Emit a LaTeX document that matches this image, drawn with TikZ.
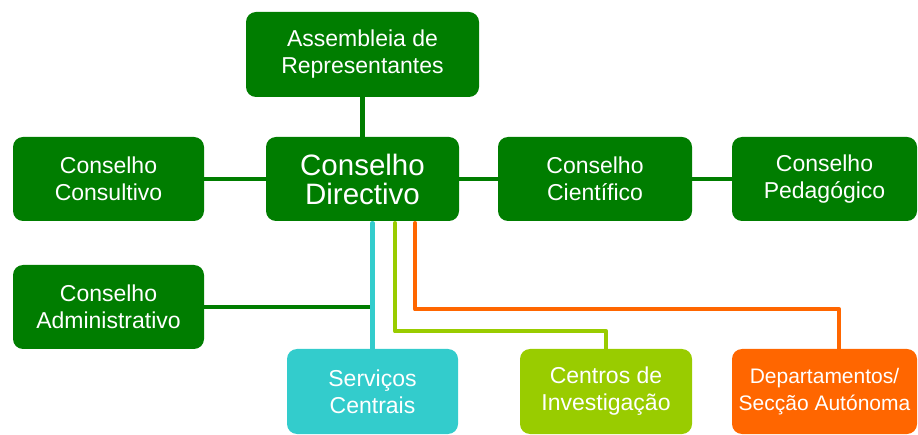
\documentclass[tikz,border=0pt]{standalone}
\usepackage{fontspec}
\setmainfont{Liberation Sans}
\usetikzlibrary{calc,backgrounds}
\definecolor{dgreen}{RGB}{0,125,0}
\definecolor{ccyan}{RGB}{51,204,204}
\definecolor{clime}{RGB}{153,204,0}
\definecolor{corange}{RGB}{255,102,0}
\begin{document}
\begin{tikzpicture}[x=1pt,y=-1pt,
  box/.style={rounded corners=10pt, fill=#1, text=white, align=center, inner sep=0pt,
    font=\fontsize{23}{27}\selectfont},
  conn/.style={line width=4.5pt, line cap=round, line join=round, draw=#1}]
\useasboundingbox (0,0) rectangle (918,435);
\node[box=dgreen, minimum width=233pt, minimum height=85pt] (asm) at (362.5,54.5) {Assembleia de\\Representantes};
\node[box=dgreen, minimum width=193pt, minimum height=84pt, font=\fontsize{29.5}{29}\selectfont] (dir) at (362.5,179) {Conselho\\Directivo};
\node[box=dgreen, minimum width=191pt, minimum height=84pt] (cons) at (108.5,179) {Conselho\\Consultivo};
\node[box=dgreen, minimum width=194pt, minimum height=84pt] (cie) at (595,179) {Conselho\\Científico};
\node[box=dgreen, minimum width=185pt, minimum height=84pt] (ped) at (824.5,179) {Conselho\\Pedagógico};
\node[box=dgreen, minimum width=191pt, minimum height=84pt] (adm) at (108.5,307) {Conselho\\Administrativo};
\node[box=ccyan, minimum width=171pt, minimum height=85pt] (serv) at (372.5,391.5) {Serviços\\Centrais};
\node[box=clime, minimum width=172pt, minimum height=85pt] (cent) at (606,391.5) {Centros de\\Investigação};
\node[box=corange, minimum width=185pt, minimum height=85pt, font=\fontsize{21}{27}\selectfont] (dep) at (824.5,391.5) {Departamentos/\\Secção Autónoma};

\begin{scope}[on background layer]
\draw[conn=dgreen] (asm.south) -- (dir.north);
\draw[conn=dgreen] (cons.east) -- (dir.west);
\draw[conn=dgreen] (dir.east) -- (cie.west);
\draw[conn=dgreen] (cie.east) -- (ped.west);
\coordinate (cyantop) at ($(serv.north |- dir.south)+(0,2)$);
\draw[conn=dgreen] (adm.east) -- (serv.north |- adm.east);
\draw[conn=ccyan] (cyantop) -- (serv.north);
\coordinate (limetop) at ($(dir.south)+(32.5,2)$);
\coordinate (limeturn) at ($(limetop)+(0,108)$);
\draw[conn=clime] (limetop) -- (limeturn) -- (limeturn -| cent.north) -- (cent.north);
\coordinate (orgtop) at ($(dir.south)+(52.5,2)$);
\coordinate (orgturn) at ($(orgtop)+(0,86)$);
\coordinate (orgend) at ($(dep.north)+(14.5,0)$);
\draw[conn=corange] (orgtop) -- (orgturn) -- (orgturn -| orgend) -- (orgend);
\end{scope}
\end{tikzpicture}
\end{document}
